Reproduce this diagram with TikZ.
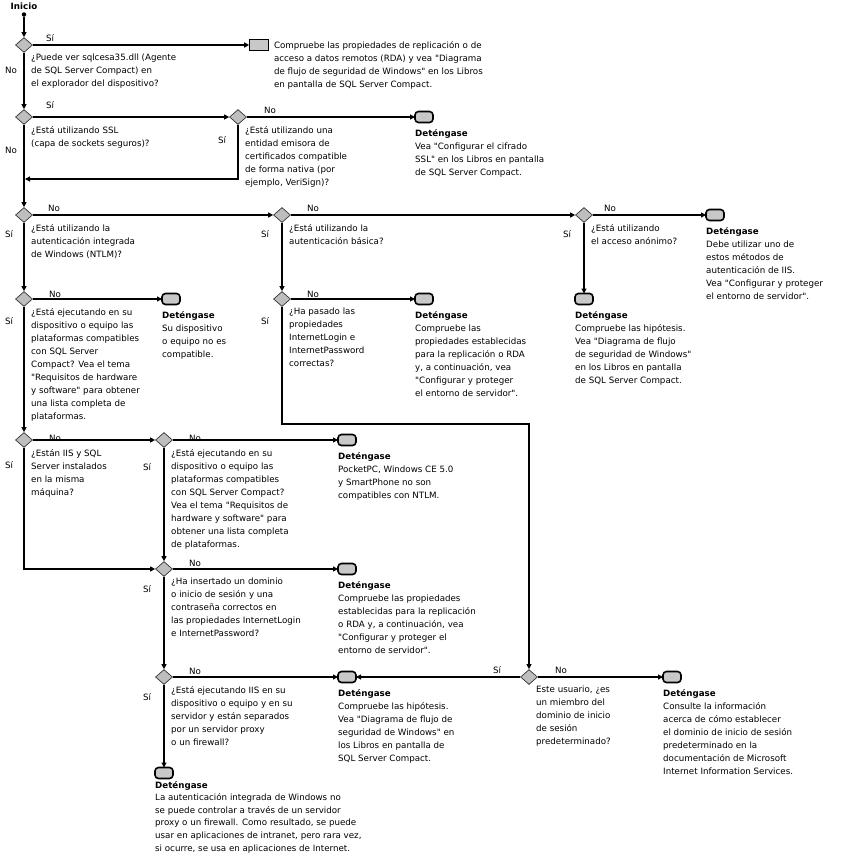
\documentclass[tikz,border=0pt]{standalone}
\usepackage{fontspec}
\setmainfont{DejaVu Sans}[Ligatures=TeXOff]
\usetikzlibrary{shapes.geometric, arrows.meta, positioning}
\definecolor{boxgray}{RGB}{200,200,200}
\definecolor{diagray}{RGB}{190,190,190}

\begin{document}
\begin{tikzpicture}[x=1pt, y=-1pt,
  font=\fontsize{8.7}{13}\selectfont,
  flow/.style={line width=1.1pt, -{Triangle[length=5pt, width=5pt]}},
  decision/.style={diamond, draw=black!80, fill=diagray, line width=0.7pt, inner sep=0pt, minimum width=17pt, minimum height=15pt},
  stopbox/.style={rectangle, rounded corners=3.5pt, draw, line width=1.6pt, fill=boxgray, inner sep=0pt, outer sep=0pt, minimum width=18pt, minimum height=11pt},
  txt/.style={inner sep=0pt, align=left, execute at begin node=\strut},
  lbl/.style={inner sep=0pt}]
\useasboundingbox (0,0) rectangle (845,855);

% Start
\node[inner sep=0pt, font=\fontsize{8.7}{13}\selectfont\bfseries] (start) at (24,6) {Inicio};
\node[circle, fill, inner sep=0pt, minimum size=4.5pt] (dot) at (24,14.5) {};

% Decisions
\node[decision] (d1) at (24,45) {};
\node[decision] (d2) at (24,117) {};
\node[decision] (d3) at (238,117) {};
\node[decision] (d4) at (24,215) {};
\node[decision] (d5) at (282,215) {};
\node[decision] (d7) at (584,215) {};
\node[decision] (d6) at (24,299) {};
\node[decision] (d9) at (282,299) {};
\node[decision] (d8) at (24,440) {};
\node[decision] (d10) at (164,440) {};
\node[decision] (d11) at (164,569) {};
\node[decision] (d12) at (164,677) {};
\node[decision] (d13) at (529,677) {};

% Ends
\node[rectangle, draw, line width=0.6pt, fill=boxgray, inner sep=0pt, minimum width=19pt, minimum height=11pt] (r0) at (259,45) {};
\node[stopbox] (s1) at (424,117) {};
\node[stopbox] (s2) at (715,215) {};
\node[stopbox] (s3) at (584,299) {};
\node[stopbox] (s4) at (424,299) {};
\node[stopbox] (s5) at (171,299) {};
\node[stopbox] (s6) at (347,440) {};
\node[stopbox] (s7) at (347,569) {};
\node[stopbox] (s8) at (347,677) {};
\node[stopbox] (s9) at (672,677) {};
\node[stopbox] (s10) at (164,773) {};

% Questions
\node[txt, below right=8.9pt and 7pt of d1.center] (q1) {¿Puede ver sqlcesa35.dll (Agente\\de SQL Server Compact) en\\el explorador del dispositivo?};
\node[txt, below right=8.9pt and 7pt of d2.center] (q2) {¿Está utilizando SSL\\(capa de sockets seguros)?};
\node[txt, below right=8.9pt and 7pt of d3.center] (q3) {¿Está utilizando una\\entidad emisora de\\certificados compatible\\de forma nativa (por\\ejemplo, VeriSign)?};
\node[txt, below right=8.9pt and 7pt of d4.center] (q4) {¿Está utilizando la\\autenticación integrada\\de Windows (NTLM)?};
\node[txt, below right=8.9pt and 7pt of d5.center] (q5) {¿Está utilizando la\\autenticación básica?};
\node[txt, below right=8.9pt and 7pt of d7.center] (q7) {¿Está utilizando\\el acceso anónimo?};
\node[txt, below right=8.9pt and 7pt of d6.center] (q6) {¿Está ejecutando en su\\dispositivo o equipo las\\plataformas compatibles\\con SQL Server\\Compact? Vea el tema\\"Requisitos de hardware\\y software" para obtener\\una lista completa de\\plataformas.};
\node[txt, below right=8.9pt and 7pt of d9.center] (q9) {¿Ha pasado las\\propiedades\\InternetLogin e\\InternetPassword\\correctas?};
\node[txt, below right=8.9pt and 7pt of d8.center] (q8) {¿Están IIS y SQL\\Server instalados\\en la misma\\máquina?};
\node[txt, below right=8.9pt and 7pt of d10.center] (q10) {¿Está ejecutando en su\\dispositivo o equipo las\\plataformas compatibles\\con SQL Server Compact?\\Vea el tema "Requisitos de\\hardware y software" para\\obtener una lista completa\\de plataformas.};
\node[txt, below right=8.9pt and 7pt of d11.center] (q11) {¿Ha insertado un dominio\\o inicio de sesión y una\\contraseña correctos en\\las propiedades InternetLogin\\e InternetPassword?};
\node[txt, below right=8.9pt and 7pt of d12.center] (q12) {¿Está ejecutando IIS en su\\dispositivo o equipo y en su\\servidor y están separados\\por un servidor proxy\\o un firewall?};
\node[txt, below right=8.9pt and 7pt of d13.center] (q13) {Este usuario, ¿es\\un miembro del\\dominio de inicio\\de sesión\\predeterminado?};

% Answers
\node[txt, below right=2.6pt and 5pt of r0.north east] (a0) {Compruebe las propiedades de replicación o de\\acceso a datos remotos (RDA) y vea "Diagrama\\de flujo de seguridad de Windows" en los Libros\\en pantalla de SQL Server Compact.};
\node[txt, below right=6.9pt and 0pt of s1.south west] (a1) {\textbf{Deténgase}\\Vea "Configurar el cifrado\\SSL" en los Libros en pantalla\\de SQL Server Compact.};
\node[txt, below right=6.9pt and 0pt of s2.south west] (a2) {\textbf{Deténgase}\\Debe utilizar uno de\\estos métodos de\\autenticación de IIS.\\Vea "Configurar y proteger\\el entorno de servidor".};
\node[txt, below right=6.9pt and 0pt of s3.south west] (a3) {\textbf{Deténgase}\\Compruebe las hipótesis.\\Vea "Diagrama de flujo\\de seguridad de Windows"\\en los Libros en pantalla\\de SQL Server Compact.};
\node[txt, below right=6.9pt and 0pt of s4.south west] (a4) {\textbf{Deténgase}\\Compruebe las\\propiedades establecidas\\para la replicación o RDA\\y, a continuación, vea\\"Configurar y proteger\\el entorno de servidor".};
\node[txt, below right=6.9pt and 0pt of s5.south west] (a5) {\textbf{Deténgase}\\Su dispositivo\\o equipo no es\\compatible.};
\node[txt, below right=6.9pt and 0pt of s6.south west] (a6) {\textbf{Deténgase}\\PocketPC, Windows CE 5.0\\y SmartPhone no son\\compatibles con NTLM.};
\node[txt, below right=6.9pt and 0pt of s7.south west] (a7) {\textbf{Deténgase}\\Compruebe las propiedades\\establecidas para la replicación\\o RDA y, a continuación, vea\\"Configurar y proteger el\\entorno de servidor".};
\node[txt, below right=6.9pt and 0pt of s8.south west] (a8) {\textbf{Deténgase}\\Compruebe las hipótesis.\\Vea "Diagrama de flujo de\\seguridad de Windows" en\\los Libros en pantalla de\\SQL Server Compact.};
\node[txt, below right=6.9pt and 0pt of s9.south west] (a9) {\textbf{Deténgase}\\Consulte la información\\acerca de cómo establecer\\el dominio de inicio de sesión\\predeterminado en la\\documentación de Microsoft\\Internet Information Services.};
\node[txt, font=\fontsize{8.7}{12.6}\selectfont, below right=2.5pt and 0pt of s10.south west] (a10) {\textbf{Deténgase}\\La autenticación integrada de Windows no\\se puede controlar a través de un servidor\\proxy o un firewall. Como resultado, se puede\\usar en aplicaciones de intranet, pero rara vez,\\si ocurre, se usa en aplicaciones de Internet.};

% Connectors
\coordinate (j1) at (25,179);
\coordinate (j2) at (529,424);
\draw[flow] (dot) -- (d1.north);
\draw[flow] (d1.east) -- (r0.west);
\draw[flow] (d1.south) -- (d2.north);
\draw[flow] (d2.east) -- (d3.west);
\draw[flow] (d3.east) -- (s1.west);
\draw[flow] (d3.south) |- (j1);
\draw[flow] (d2.south) -- (d4.north);
\draw[flow] (d4.east) -- (d5.west);
\draw[flow] (d5.east) -- (d7.west);
\draw[flow] (d7.east) -- (s2.west);
\draw[flow] (d7.south) -- (s3.north);
\draw[flow] (d4.south) -- (d6.north);
\draw[flow] (d5.south) -- (d9.north);
\draw[flow] (d6.east) -- (s5.west);
\draw[flow] (d9.east) -- (s4.west);
\draw[flow] (d6.south) -- (d8.north);
\draw[flow] (d9.south) |- (j2) -- (d13.north);
\draw[flow] (d8.east) -- (d10.west);
\draw[flow] (d8.south) |- (d11.west);
\draw[flow] (d10.east) -- (s6.west);
\draw[flow] (d10.south) -- (d11.north);
\draw[flow] (d11.east) -- (s7.west);
\draw[flow] (d11.south) -- (d12.north);
\draw[flow] (d12.east) -- (s8.west);
\draw[flow] (d12.south) -- (s10.north);
\draw[flow] (d13.west) -- (s8.east);
\draw[flow] (d13.east) -- (s9.west);

% Yes / no
\node[lbl] (y1) at (50,38) {Sí};
\node[lbl] (n1) at (11,70) {No};
\node[lbl] (y2) at (50,105) {Sí};
\node[lbl] (n2) at (11,150) {No};
\node[lbl] (n3) at (270,110) {No};
\node[lbl] (y3) at (222,140) {Sí};
\node[lbl] (n4) at (54,208) {No};
\node[lbl] (y4) at (9,234) {Sí};
\node[lbl] (n5) at (313,208) {No};
\node[lbl] (y5) at (265,234) {Sí};
\node[lbl] (n7) at (610,208) {No};
\node[lbl] (y7) at (567,234) {Sí};
\node[lbl] (n6) at (55,294) {No};
\node[lbl] (y6) at (9,321) {Sí};
\node[lbl] (n9) at (313,294) {No};
\node[lbl] (y9) at (265,321) {Sí};
\node[lbl] (n8) at (55,438) {No};
\node[lbl] (y8) at (9,465) {Sí};
\node[lbl] (n10) at (195,438) {No};
\node[lbl] (y10) at (147,467) {Sí};
\node[lbl] (n11) at (195,563) {No};
\node[lbl] (y11) at (147,589) {Sí};
\node[lbl] (n12) at (195,671) {No};
\node[lbl] (y12) at (147,697) {Sí};
\node[lbl] (y13) at (497,670) {Sí};
\node[lbl] (n13) at (561,670) {No};
\end{tikzpicture}
\end{document}
